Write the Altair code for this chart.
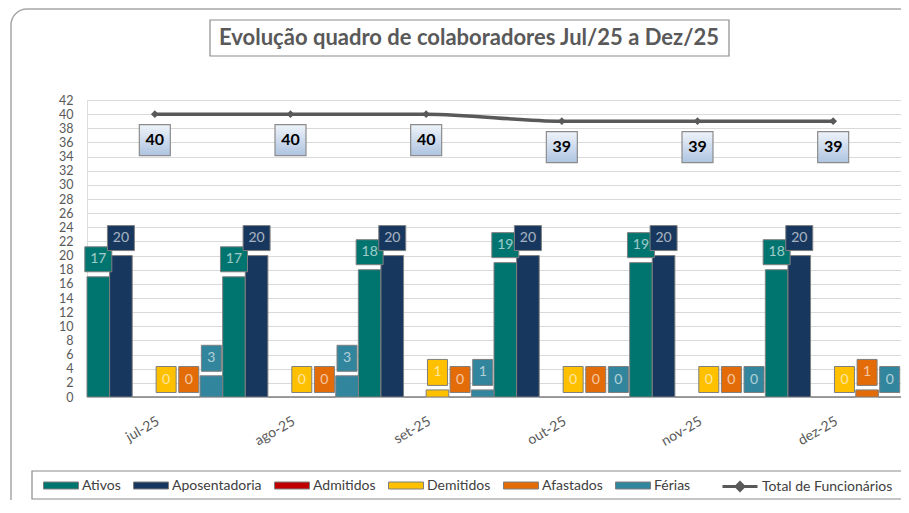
import altair as alt
import pandas as pd

months = ["jul-25", "ago-25", "set-25", "out-25", "nov-25", "dez-25"]
series = ["Ativos", "Aposentadoria", "Admitidos", "Demitidos", "Afastados", "Férias"]
ativos = [17, 17, 18, 19, 19, 18]
aposentadoria = [20, 20, 20, 20, 20, 20]
admitidos = [0, 0, 0, 0, 0, 0]
demitidos = [0, 0, 1, 0, 0, 0]
afastados = [0, 0, 0, 0, 0, 1]
ferias = [3, 3, 1, 0, 0, 0]
total = [40, 40, 40, 39, 39, 39]
total_name = "Total de Funcionários"
colors = ["#007570", "#17375e", "#c00000", "#ffc000", "#e36c09", "#31859c"]
title_text = "Evolução quadro de colaboradores Jul/25 a Dez/25"
y_ticks = list(range(0, 43, 2))

FONT = "Lato"
W, H = 814, 297

values_by_series = [ativos, aposentadoria, admitidos, demitidos, afastados, ferias]
rows = []
for s, vals in zip(series, values_by_series):
    for m, v in zip(months, vals):
        rows.append({"month": m, "serie": s, "value": v, "digits": len(str(v))})
bars_df = pd.DataFrame(rows)
line_df = pd.DataFrame({"month": months, "total": total, "serie": [total_name] * len(months)})
one = pd.DataFrame({"a": [0]})

x_enc = alt.X("month:N", sort=months, title=None,
              scale=alt.Scale(paddingInner=0, paddingOuter=0),
              axis=alt.Axis(labelAngle=-30, labelAlign="right", labelBaseline="top",
                            labelPadding=17, ticks=False, domainColor="#d9d9d9",
                            labelColor="#595959", labelFont=FONT, labelFontSize=14, grid=False))
xo_enc = alt.XOffset("serie:N", sort=series, scale=alt.Scale(paddingInner=0, paddingOuter=0))
y_scale = alt.Scale(domain=[0, 42], nice=False)
y_axis = alt.Axis(values=y_ticks, title=None, domain=False, ticks=False, labelPadding=14,
                  gridColor="#d9d9d9", labelColor="#595959", labelFont=FONT, labelFontSize=12.5)
color_enc = alt.Color("serie:N", sort=series,
                      scale=alt.Scale(domain=series, range=colors),
                      legend=alt.Legend(orient="none", legendX=-44, legendY=367.5, direction="horizontal",
                                        title=None, symbolType="M-1,-0.2H1V0.2H-1Z", symbolSize=1225,
                                        symbolStrokeColor="#7f7f7f", symbolStrokeWidth=1,
                                        labelFont=FONT, labelFontSize=14, labelColor="#404040",
                                        labelOffset=3, columnPadding=10))
color_nolegend = alt.Color("serie:N", sort=series, scale=alt.Scale(domain=series, range=colors), legend=None)

# decorations
outer = alt.Chart(one).mark_rect(fillOpacity=0, stroke="#a6a6a6", strokeWidth=1.5, cornerRadius=16).encode(
    x=alt.value(-76), x2=alt.value(905), y=alt.value(-91), y2=alt.value(430))
title_box = alt.Chart(one).mark_rect(fill="white", stroke="#8c8c8c", strokeWidth=1.2).encode(
    x=alt.value(123), x2=alt.value(642), y=alt.value(-80), y2=alt.value(-44))
title = alt.Chart(one).mark_text(font=FONT, fontSize=22, fontWeight="bold", color="#595959",
                                 align="center", baseline="middle").encode(
    x=alt.value(382), y=alt.value(-62), text=alt.value(title_text))
legend_box = alt.Chart(one).mark_rect(fill="white", stroke="#8c8c8c", strokeWidth=1.2).encode(
    x=alt.value(-55), x2=alt.value(905), y=alt.value(371), y2=alt.value(399))

bars = alt.Chart(bars_df).mark_bar(stroke="#7f7f7f", strokeWidth=1).encode(
    x=x_enc, xOffset=xo_enc,
    y=alt.Y("value:Q", scale=y_scale, axis=y_axis),
    color=color_enc)

lab_df = bars_df[bars_df["serie"] != "Admitidos"]
lab_base = alt.Chart(lab_df)
box1 = lab_base.transform_filter("datum.digits == 1").mark_point(
    shape="M-10,-13H10V13H-10Z", size=4, filled=True, opacity=1, stroke="#7f7f7f",
    strokeWidth=1, yOffset=-17.5).encode(
    x=x_enc, xOffset=xo_enc, y=alt.Y("value:Q", scale=y_scale, axis=y_axis), color=color_nolegend)
box2 = lab_base.transform_filter("datum.digits == 2").mark_point(
    shape="M-13.5,-12.5H13.5V12.5H-13.5Z", size=4, filled=True, opacity=1, stroke="#7f7f7f",
    strokeWidth=1, yOffset=-17.5).encode(
    x=x_enc, xOffset=xo_enc, y=alt.Y("value:Q", scale=y_scale, axis=y_axis), color=color_nolegend)
lab_text = lab_base.mark_text(font=FONT, fontSize=14, color="white", opacity=0.62,
                              baseline="middle", align="center", yOffset=-17.5).encode(
    x=x_enc, xOffset=xo_enc, y=alt.Y("value:Q", scale=y_scale, axis=y_axis), text="value:Q")

line = alt.Chart(line_df).mark_line(strokeWidth=3.5, interpolate="monotone").encode(
    x=x_enc, y=alt.Y("total:Q", scale=y_scale, axis=y_axis),
    stroke=alt.Stroke("serie:N", scale=alt.Scale(domain=[total_name], range=["#595959"]),
                      legend=alt.Legend(orient="none", legendX=634, legendY=367.5, title=None,
                                        symbolType="M-1,0H1M-0.22,0L0,-0.22L0.22,0L0,0.22Z",
                                        symbolSize=1225, symbolStrokeWidth=3,
                                        symbolFillColor="#595959",
                                        labelFont=FONT, labelFontSize=14, labelColor="#404040",
                                        labelOffset=3)))
line_pts = alt.Chart(line_df).mark_point(shape="diamond", size=60, filled=True, opacity=1,
                                          color="#595959").encode(
    x=x_enc, y=alt.Y("total:Q", scale=y_scale, axis=y_axis))
grad = alt.LinearGradient(gradient="linear", x1=0, y1=0, x2=0, y2=1,
                          stops=[alt.GradientStop(color="#eef3f9", offset=0),
                                 alt.GradientStop(color="#aec4e1", offset=1)])
line_box = alt.Chart(line_df).mark_point(shape="M-15.5,-15.5H15.5V15.5H-15.5Z", size=4, filled=True,
                                          opacity=1, fill=grad, stroke="#8c8c8c", strokeWidth=1.2,
                                          yOffset=26).encode(
    x=x_enc, y=alt.Y("total:Q", scale=y_scale, axis=y_axis))
line_text = alt.Chart(line_df).mark_text(font=FONT, fontSize=16, fontWeight="bold", color="black",
                                          baseline="middle", align="center", yOffset=26).encode(
    x=x_enc, y=alt.Y("total:Q", scale=y_scale, axis=y_axis), text="total:Q")

chart = alt.layer(outer, title_box, title, legend_box, bars, box1, box2, lab_text,
                  line, line_pts, line_box, line_text).resolve_scale(
    color="independent", stroke="independent"
).properties(
    width=W, height=H,
    padding={"left": 79, "top": 92, "right": 0, "bottom": 103},
    autosize=alt.AutoSizeParams(type="none"),
).configure_view(stroke=None).configure(background="white")

chart.save("out.html", embed_options={"renderer": "svg", "actions": False})
